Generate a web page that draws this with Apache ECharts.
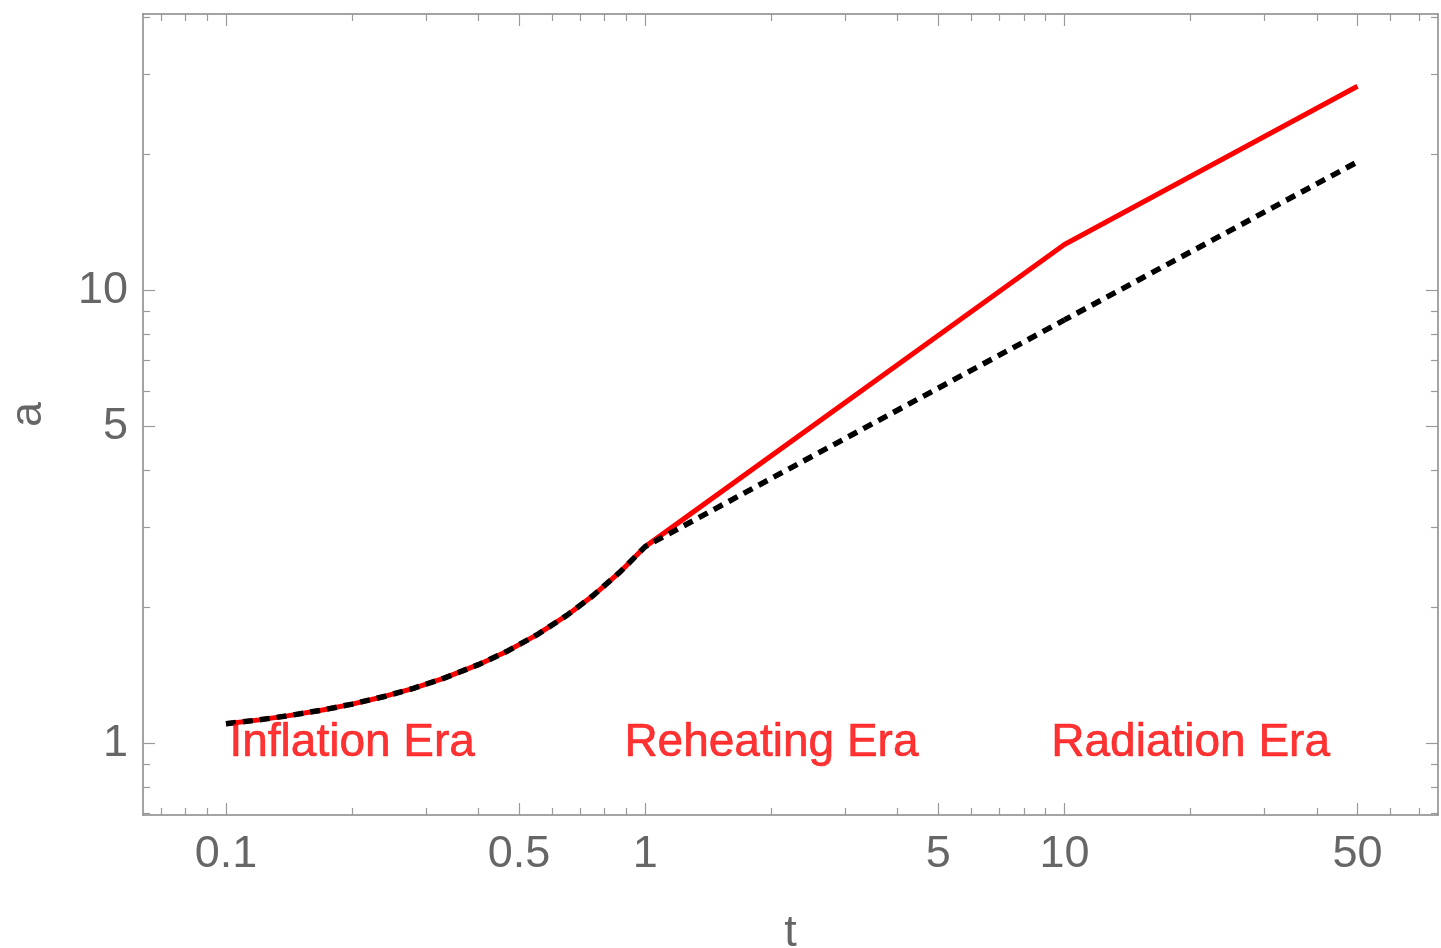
<!DOCTYPE html>
<html>
<head>
<meta charset="utf-8">
<script src="https://cdn.jsdelivr.net/npm/echarts@6/dist/echarts.min.js"></script>
<style>
  html, body { margin: 0; padding: 0; background: #ffffff; }
  #chart { width: 1441px; height: 948px; }
</style>
</head>
<body>
<div id="chart"></div>
<script>
// Scale factor a(t) across the three cosmological eras (log-log).

// Axis ranges (data units)
const tRange = [0.0634, 77.8];
const aRange = [0.695, 40.7];

// Tick marks
const tMajorTicks = [0.1, 0.5, 1, 5, 10, 50];
const tMinorTicks = [0.07, 0.08, 0.09, 0.2, 0.3, 0.4, 0.6, 0.7, 0.8, 0.9,
                     2, 3, 4, 6, 7, 8, 9, 20, 30, 40, 60, 70];
const aMajorTicks = [1, 5, 10];
const aMinorTicks = [0.7, 0.8, 0.9, 2, 3, 4, 6, 7, 8, 9, 20, 30, 40];

// Inflation era (shared by both curves)
const inflationT = [0.1, 0.12, 0.14, 0.17, 0.2, 0.24, 0.28, 0.33, 0.4, 0.47, 0.55, 0.65, 0.75, 0.87, 1.0];
const inflationA = [1.105, 1.127, 1.150, 1.185, 1.221, 1.271, 1.323, 1.391, 1.492, 1.600, 1.733, 1.916, 2.117, 2.387, 2.718];

// Red curve: reheating (matter-like) then radiation
const reheatT = [1, 10];
const reheatA = [2.718, 12.62];
const radiationT = [10, 50];
const radiationA = [12.62, 28.2];

// Black dotted curve: radiation-like growth straight after inflation
const directT1 = [1, 10];
const directA1 = [2.718, 8.6];
const directT2 = [10, 50];
const directA2 = [8.6, 19.2];

// Era captions
const eraNames = ['Inflation Era', 'Reheating Era', 'Radiation Era'];
const eraT = [0.2, 2, 20];
const eraA = [1, 1, 1];

const FONT = '"Liberation Sans", Arial, Helvetica, sans-serif';
const FRAME = '#878787';
const TICK = '#9a9a9a';
const TEXT = '#666666';
const lg = Math.log10;

function zip(xs, ys) { return xs.map((x, i) => [x, ys[i]]); }
function fmtPow(v) { return String(+Math.pow(10, v).toPrecision(4)); }

// Value axis on log10 coordinates used only for frame / ticks / labels
function frameAxis(range, position, ticks, len, withLine, extra) {
  return Object.assign({
    type: 'value',
    position: position,
    min: lg(range[0]),
    max: lg(range[1]),
    axisLine: { show: withLine, onZero: false, lineStyle: { color: FRAME, width: 1.5 } },
    axisTick: { show: true, inside: true, length: len, customValues: ticks.map(lg),
                lineStyle: { color: TICK, width: 1.2 } },
    axisLabel: { show: false },
    splitLine: { show: false },
    silent: true
  }, extra || {});
}

const xAxes = [
  { type: 'log', min: tRange[0], max: tRange[1], show: false, splitLine: { show: false } },
  frameAxis(tRange, 'bottom', tMajorTicks, 12, true, {
    axisLabel: { show: true, customValues: tMajorTicks.map(lg), formatter: fmtPow,
                 color: TEXT, fontSize: 45, fontFamily: FONT, margin: 17 },
    name: 't', nameLocation: 'middle', nameGap: 96,
    nameTextStyle: { color: TEXT, fontSize: 45, fontFamily: FONT }
  }),
  frameAxis(tRange, 'bottom', tMinorTicks, 7, false),
  frameAxis(tRange, 'top', tMajorTicks, 12, true),
  frameAxis(tRange, 'top', tMinorTicks, 7, false)
];

const yAxes = [
  { type: 'log', min: aRange[0], max: aRange[1], show: false, splitLine: { show: false } },
  frameAxis(aRange, 'left', aMajorTicks, 12, true, {
    axisLabel: { show: true, customValues: aMajorTicks.map(lg), formatter: fmtPow,
                 color: TEXT, fontSize: 45, fontFamily: FONT, margin: 15 },
    name: 'a', nameLocation: 'middle', nameGap: 92,
    nameTextStyle: { color: TEXT, fontSize: 45, fontFamily: FONT }
  }),
  frameAxis(aRange, 'left', aMinorTicks, 7, false),
  frameAxis(aRange, 'right', aMajorTicks, 12, true),
  frameAxis(aRange, 'right', aMinorTicks, 7, false)
];

const redData = zip(inflationT, inflationA)
  .concat(zip(reheatT, reheatA).slice(1))
  .concat(zip(radiationT, radiationA).slice(1));
const blackData1 = zip(inflationT, inflationA).concat(zip(directT1, directA1).slice(1));
const blackData2 = zip(directT2, directA2);

const dotted = { color: '#000000', width: 5.5, type: [10, 7], cap: 'butt' };

const chart = echarts.init(document.getElementById('chart'), null, { renderer: 'canvas' });
chart.setOption({
  animation: false,
  backgroundColor: '#ffffff',
  grid: { left: 143, right: 3, top: 14, bottom: 133, containLabel: false, outerBoundsMode: 'none' },
  xAxis: xAxes,
  yAxis: yAxes,
  series: [
    {
      type: 'line', xAxisIndex: 0, yAxisIndex: 0, data: redData,
      symbol: 'none', lineStyle: { color: '#ff0000', width: 5 }, z: 2
    },
    {
      type: 'line', xAxisIndex: 0, yAxisIndex: 0, data: blackData1,
      symbol: 'none', lineStyle: dotted, z: 3
    },
    {
      type: 'line', xAxisIndex: 0, yAxisIndex: 0, data: blackData2,
      symbol: 'none', lineStyle: Object.assign({}, dotted, { type: [10, 7], dashOffset: -14 }), z: 3
    },
    {
      type: 'scatter', xAxisIndex: 0, yAxisIndex: 0,
      data: eraNames.map((n, i) => ({ name: n, value: [eraT[i], eraA[i]] })),
      symbol: 'circle', symbolSize: 1, itemStyle: { color: 'transparent' },
      label: { show: true, position: 'inside', formatter: '{b}', color: '#ff0000',
               textBorderColor: '#ff0000', textBorderWidth: 0.6, fontSize: 46, fontFamily: FONT },
      silent: true, z: 4
    }
  ]
});
</script>
</body>
</html>
